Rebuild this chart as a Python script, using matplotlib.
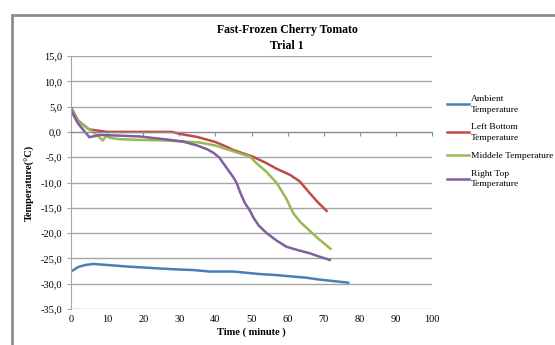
import matplotlib
matplotlib.use("Agg")
import matplotlib.pyplot as plt
from matplotlib.patches import Rectangle
from matplotlib.ticker import FuncFormatter

# Ambient temperature
t_amb = [0, 2, 4, 6.2, 10, 15.4, 20, 24.7, 30, 33.9, 38.5, 45, 52.4, 57, 61.6, 65, 69, 73, 76.8]
T_amb = [-27.6, -26.7, -26.3, -26.1, -26.3, -26.6, -26.8, -27.0, -27.2, -27.3, -27.6, -27.6, -28.1, -28.3, -28.6, -28.8, -29.2, -29.5, -29.8]

# Left bottom
t_lb = [0, 2, 5, 8, 10, 20, 28, 30.2, 35, 40, 43, 45, 50.4, 54.2, 57, 60.7, 63.4, 66, 68.5, 70.8]
T_lb = [4.8, 2.2, 0.5, 0.2, 0.0, 0.0, 0.0, -0.4, -1.0, -2.0, -2.9, -3.6, -4.9, -6.2, -7.3, -8.5, -9.8, -12.0, -14.0, -15.6]

# Middle
t_mid = [0, 2, 5.3, 7.5, 8.8, 9.7, 11, 13.6, 20, 26.5, 35.7, 40, 44, 46.5, 49.6, 51.4, 54, 57, 59.5, 61.6, 63.5, 65.3, 68.5, 71.9]
T_mid = [4.5, 2.0, 0.4, -0.8, -1.7, -0.8, -1.2, -1.45, -1.6, -1.7, -2.1, -2.7, -3.6, -4.2, -4.9, -6.2, -7.8, -10.1, -13.0, -16.1, -17.8, -19.0, -21.1, -23.1]

# Right top
t_rt = [0, 2, 5.1, 8, 12, 19, 26.5, 31, 35, 37.6, 39.4, 41, 42.2, 43.6, 45, 45.9, 47, 48.2, 49.6, 50.5, 52, 54.2, 57, 59.7, 63, 66.2, 69, 71.7]
T_rt = [4.2, 1.6, -1.05, -0.6, -0.7, -0.9, -1.5, -1.9, -2.7, -3.4, -4.1, -5.0, -6.2, -7.6, -9.0, -10.1, -12.2, -14.1, -15.6, -16.9, -18.5, -20.0, -21.5, -22.7, -23.4, -24.0, -24.7, -25.3]

x_ticks = list(range(0, 101, 10))
y_ticks = list(range(-35, 16, 5))

plt.rcParams["font.family"] = ["Liberation Serif", "DejaVu Serif"]

fig = plt.figure(figsize=(5.55, 3.45), dpi=100)
fig.patch.set_facecolor("white")

# chart area frame (spreadsheet style)
fig.patches.append(Rectangle((12 / 555, -0.05), 1.0, 1 - 15 / 345 + 0.05, transform=fig.transFigure,
                             fill=False, edgecolor="#8c8c8c", linewidth=2.0))

ax = fig.add_axes([71 / 555, 1 - 309 / 345, (432 - 71) / 555, (309 - 56) / 345])

ax.plot(t_amb, T_amb, color="#4a7ebb", linewidth=1.8, label="Ambient\nTemperature")
ax.plot(t_lb, T_lb, color="#be4b48", linewidth=1.8, label="Left Bottom\nTemperature")
ax.plot(t_mid, T_mid, color="#98b954", linewidth=1.8, label="Middele Temperature")
ax.plot(t_rt, T_rt, color="#7d60a0", linewidth=1.8, label="Right Top\nTemperature")

ax.set_xlim(0, 100)
ax.set_ylim(-35, 15)
ax.set_yticks(y_ticks)
ax.yaxis.set_major_formatter(FuncFormatter(lambda v, p: f"{v:.1f}".replace(".", ",")))
ax.grid(axis="y", color="#a6a6a6", linewidth=1.0)
ax.set_axisbelow(True)

for s in ["top", "right"]:
    ax.spines[s].set_visible(False)
ax.spines["left"].set_color("#a6a6a6")
ax.spines["bottom"].set_color("#8c8c8c")
ax.spines["bottom"].set_position(("data", 0))
ax.set_xticks(x_ticks)
ax.tick_params(axis="x", direction="out", length=3, color="#8c8c8c", labelbottom=False)
ax.tick_params(axis="y", direction="out", length=3, color="#a6a6a6", labelsize=7.5)

sec = ax.secondary_xaxis("bottom")
sec.set_xticks(x_ticks)
sec.tick_params(length=0, labelsize=7.5, pad=4)
sec.spines["bottom"].set_visible(False)

ax.set_ylabel("Temperature(\u00b0C)", fontsize=7.5, fontweight="bold", labelpad=4)
sec.set_xlabel("Time ( minute )", fontsize=7.5, fontweight="bold", labelpad=3)

fig.text(287 / 555, 1 - 38 / 345, "Fast-Frozen Cherry Tomato\nTrial 1", ha="center", va="center",
         fontsize=8.5, fontweight="bold", linespacing=1.35)

leg = ax.legend(loc="upper left", bbox_to_anchor=(1.03, 0.86), frameon=False, fontsize=6.8,
                handlelength=2.4, handletextpad=0.15, labelspacing=1.0, borderaxespad=0)
for txt in leg.get_texts():
    txt.set_linespacing(1.45)

fig.savefig("out.png", dpi=100)
